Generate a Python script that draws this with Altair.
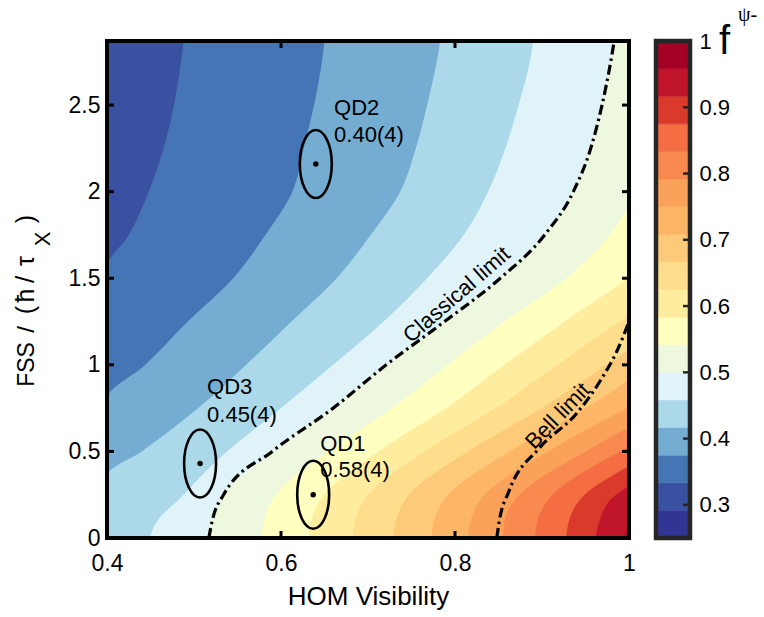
import altair as alt
import pandas as pd

FONT = "Liberation Sans"

# ---------------- axes / ticks ----------------
VIS_DOMAIN = [0.4, 1.0]
FSS_DOMAIN = [0.0, 2.87]
VIS_TICKS = [0.4, 0.6, 0.8, 1.0]
FSS_TICKS = [0, 0.5, 1, 1.5, 2, 2.5]
INNER_VIS_TICKS = [0.6, 0.8]
INNER_FSS_TICKS = [0.5, 1.0, 1.5, 2.0, 2.5]
CBAR_TICKS = [0.3, 0.4, 0.5, 0.6, 0.7, 0.8, 0.9, 1.0]
CBAR_INNER_TICKS = [0.3, 0.4, 0.5, 0.6, 0.7, 0.8, 0.9]

# ---------------- contour levels and colours ----------------
LEVEL_EDGES = [0.25, 0.2917, 0.3333, 0.375, 0.4167, 0.4583, 0.5, 0.5417, 0.5833,
               0.625, 0.6667, 0.7083, 0.75, 0.7917, 0.8333, 0.875, 0.9167, 0.9583, 1.0]
BAND_COLORS = ["#313695", "#3a50a1", "#4575b4", "#74add1", "#abd9e9", "#e0f3f8",
               "#eef8de", "#ffffbf", "#feec9f", "#fedd8c", "#fdca7a", "#fdb566",
               "#fba25a", "#f88a4f", "#f46d43", "#d93a2b", "#c0152b", "#a50026"]

# contour lines (HOM visibility, FSS), bottom -> top
C_0292 = [(0.400, 0.00), (0.400, 2.87)]
C_0333 = [(0.400, 0.00), (0.400, 1.56), (0.425, 1.75), (0.448, 2.00), (0.465, 2.25),
          (0.477, 2.50), (0.485, 2.75), (0.488, 2.87)]
C_0375 = [(0.400, 0.00), (0.400, 0.80), (0.444, 1.00), (0.493, 1.25), (0.545, 1.50),
          (0.582, 1.75), (0.613, 2.00), (0.626, 2.25), (0.638, 2.50), (0.647, 2.75),
          (0.650, 2.87)]
C_0417 = [(0.400, 0.00), (0.400, 0.36), (0.440, 0.50), (0.505, 0.75), (0.560, 1.00),
          (0.612, 1.25), (0.664, 1.50), (0.703, 1.75), (0.737, 2.00), (0.755, 2.25),
          (0.768, 2.50), (0.779, 2.75), (0.783, 2.87)]
C_0458 = [(0.449, 0.00), (0.458, 0.10), (0.484, 0.23), (0.527, 0.45), (0.600, 0.75),
          (0.660, 1.00), (0.718, 1.25), (0.768, 1.50), (0.810, 1.75), (0.838, 2.00),
          (0.858, 2.25), (0.873, 2.50), (0.886, 2.75), (0.890, 2.87)]
C_0500 = [(0.517, 0.00), (0.521, 0.10), (0.534, 0.25), (0.590, 0.50), (0.660, 0.75),
          (0.721, 1.00), (0.788, 1.25), (0.852, 1.50), (0.903, 1.75), (0.936, 2.00),
          (0.956, 2.25), (0.969, 2.50), (0.979, 2.75), (0.983, 2.87)]
C_0542 = [(0.577, 0.00), (0.581, 0.10), (0.594, 0.25), (0.654, 0.50), (0.728, 0.75),
          (0.792, 1.00), (0.857, 1.25), (0.928, 1.50), (0.978, 1.75), (1.000, 1.92)]
C_0583 = [(0.632, 0.00), (0.635, 0.10), (0.649, 0.25), (0.712, 0.50), (0.790, 0.75),
          (0.857, 1.00), (0.926, 1.25), (1.000, 1.50)]
C_0625 = [(0.682, 0.00), (0.685, 0.10), (0.700, 0.25), (0.765, 0.50), (0.847, 0.75),
          (0.918, 1.00), (0.990, 1.25), (1.000, 1.28)]
C_0667 = [(0.729, 0.00), (0.732, 0.10), (0.747, 0.25), (0.815, 0.50), (0.900, 0.75),
          (0.974, 1.00), (1.000, 1.09)]
C_0708 = [(0.773, 0.00), (0.776, 0.10), (0.792, 0.25), (0.863, 0.50), (0.951, 0.75),
          (1.000, 0.915)]
C_0750 = [(0.815, 0.00), (0.818, 0.10), (0.834, 0.25), (0.907, 0.50), (1.000, 0.755)]
C_0792 = [(0.855, 0.00), (0.857, 0.10), (0.874, 0.25), (0.950, 0.50), (1.000, 0.64)]
C_0833 = [(0.892, 0.00), (0.895, 0.10), (0.912, 0.25), (0.990, 0.50), (1.000, 0.527)]
C_0875 = [(0.928, 0.00), (0.931, 0.10), (0.949, 0.25), (1.000, 0.414)]
C_0917 = [(0.962, 0.00), (0.966, 0.10), (0.985, 0.25), (1.000, 0.30)]
C_0958 = [(0.995, 0.00), (1.000, 0.10)]

CONTOURS = [C_0292, C_0333, C_0375, C_0417, C_0458, C_0500, C_0542, C_0583, C_0625,
            C_0667, C_0708, C_0750, C_0792, C_0833, C_0875, C_0917, C_0958]

BELL_LIMIT = [(0.848, 0.00), (0.851, 0.10), (0.862, 0.27), (0.897, 0.52), (0.939, 0.715),
              (0.967, 0.908), (0.988, 1.10), (1.000, 1.25)]

# ---------------- quantum dots ----------------
QD_NAMES = ["QD1", "QD2", "QD3"]
QD_VIS = [0.637, 0.640, 0.507]
QD_FSS = [0.25, 2.16, 0.43]
QD_FID = ["0.58(4)", "0.40(4)", "0.45(4)"]
QD_LABEL_VIS = [0.645, 0.661, 0.515]
QD_NAME_FSS = [0.503, 2.445, 0.832]
QD_FID_FSS = [0.353, 2.289, 0.671]

CURVE_LABELS = ["Classical limit", "Bell limit"]
CURVE_LABEL_VIS = [0.802, 0.918]
CURVE_LABEL_FSS = [1.405, 0.705]
CURVE_LABEL_ANGLE = [319, 314]

# y-axis title pieces: text, centre (px from plot top), baseline (px from plot left), size
YTITLE = [("FSS", 323.5, -73, 23), ("/", 288.5, -73, 24), ("(", 269, -73, 25),
          ("ħ", 254.5, -73, 25), ("/", 238.5, -73, 26), ("τ", 220, -73, 25),
          ("X", 198, -57, 22), (")", 178, -73, 25)]

# ---------------- build ----------------
W, H = 522, 497
CB_W = 34

xsc = alt.Scale(domain=VIS_DOMAIN, nice=False, zero=False)
ysc = alt.Scale(domain=FSS_DOMAIN, nice=False, zero=False)
xaxis = alt.Axis(values=VIS_TICKS, format=".1~f", title="HOM Visibility", ticks=False,
                 tickSize=0, domain=False, grid=False, labelFontSize=23, labelPadding=14,
                 labelColor="black", titleFontSize=26, titleFontWeight="normal",
                 titleColor="black", titlePadding=8, labelFlush=False)
yaxis = alt.Axis(values=FSS_TICKS, format=".1~f", title=None, ticks=False, tickSize=0,
                 domain=False, grid=False, labelFontSize=23, labelPadding=7,
                 labelColor="black", labelFlush=False)


def X(field):
    return alt.X(field, type="quantitative", scale=xsc, axis=xaxis)


def Y(field):
    return alt.Y(field, type="quantitative", scale=ysc, axis=yaxis)


one = pd.DataFrame({"a": [0]})
layers = []
for k, pts in enumerate(CONTOURS):
    df = pd.DataFrame(pts, columns=["vis", "fss"])
    layers.append(
        alt.Chart(df).mark_area(orient="horizontal", interpolate="monotone",
                                color=BAND_COLORS[k + 1], clip=True)
        .encode(x=X("vis"), x2=alt.datum(1.0), y=Y("fss"))
    )

classical_df = pd.DataFrame(C_0500, columns=["vis", "fss"])
bell_df = pd.DataFrame(BELL_LIMIT, columns=["vis", "fss"])
for ldf in (classical_df, bell_df):
    layers.append(
        alt.Chart(ldf).mark_line(color="black", strokeWidth=3.2, strokeDash=[10, 4, 2.5, 4],
                                 interpolate="monotone", clip=True)
        .encode(x=X("vis"), y=Y("fss"), order=alt.Order("fss:Q"))
    )

for txt, v, s, ang in zip(CURVE_LABELS, CURVE_LABEL_VIS, CURVE_LABEL_FSS, CURVE_LABEL_ANGLE):
    cdf = pd.DataFrame({"vis": [v], "fss": [s], "t": [txt]})
    layers.append(
        alt.Chart(cdf).mark_text(angle=ang, fontSize=22, color="black", align="center",
                                 baseline="middle")
        .encode(x=X("vis"), y=Y("fss"), text="t:N")
    )

qd_df = pd.DataFrame({"name": QD_NAMES, "vis": QD_VIS, "fss": QD_FSS, "fid": QD_FID,
                      "lvis": QD_LABEL_VIS, "nfss": QD_NAME_FSS, "ffss": QD_FID_FSS})
ELLIPSE = ("M0,-1C0.26,-1,0.47,-0.55,0.47,0C0.47,0.55,0.26,1,0,1"
           "C-0.26,1,-0.47,0.55,-0.47,0C-0.47,-0.55,-0.26,-1,0,-1Z")
layers.append(
    alt.Chart(qd_df).mark_point(shape=ELLIPSE, size=68 * 68, filled=False, stroke="black",
                                strokeWidth=2.6, opacity=1)
    .encode(x=X("vis"), y=Y("fss"))
)
layers.append(
    alt.Chart(qd_df).mark_point(shape="circle", size=30, filled=True, color="black", opacity=1)
    .encode(x=X("vis"), y=Y("fss"))
)
layers.append(
    alt.Chart(qd_df).mark_text(align="left", baseline="alphabetic", fontSize=22, color="black")
    .encode(x=X("lvis"), y=Y("nfss"), text="name:N")
)
layers.append(
    alt.Chart(qd_df).mark_text(align="left", baseline="alphabetic", fontSize=22, color="black")
    .encode(x=X("lvis"), y=Y("ffss"), text="fid:N")
)

# inward ticks
txdf = pd.DataFrame({"v": INNER_VIS_TICKS})
tydf = pd.DataFrame({"v": INNER_FSS_TICKS})
layers.append(alt.Chart(txdf).mark_rule(color="black", strokeWidth=3)
              .encode(x=X("v"), y=alt.value(H), y2=alt.value(H - 7)))
layers.append(alt.Chart(txdf).mark_rule(color="black", strokeWidth=3)
              .encode(x=X("v"), y=alt.value(0), y2=alt.value(7)))
layers.append(alt.Chart(tydf).mark_rule(color="black", strokeWidth=3)
              .encode(y=Y("v"), x=alt.value(0), x2=alt.value(7)))
layers.append(alt.Chart(tydf).mark_rule(color="black", strokeWidth=3)
              .encode(y=Y("v"), x=alt.value(W), x2=alt.value(W - 7)))

# frame
layers.append(alt.Chart(one).mark_rect(filled=False, stroke="black", strokeWidth=4)
              .encode(x=alt.value(0), x2=alt.value(W), y=alt.value(0), y2=alt.value(H)))

# y title
for txt, yc, xb, fs in YTITLE:
    layers.append(
        alt.Chart(one).mark_text(text=txt, angle=270, fontSize=fs, color="black",
                                 align="center", baseline="alphabetic")
        .encode(x=alt.value(xb), y=alt.value(yc))
    )

main = alt.layer(*layers).properties(width=W, height=H)

# ---------------- colour bar ----------------
cb_df = pd.DataFrame({"lo": LEVEL_EDGES[:-1], "hi": LEVEL_EDGES[1:],
                      "band": [str(i) for i in range(len(BAND_COLORS))]})
cb_y = alt.Scale(domain=[0.25, 1.0], nice=False, zero=False)
cb_axis = alt.Axis(orient="right", values=CBAR_TICKS, format=".1~f", title=None, ticks=False,
                   tickSize=0, domain=False, grid=False, labelFontSize=22, labelPadding=9,
                   labelColor="black", labelFlush=False)
band_scale = alt.Scale(domain=[str(i) for i in range(len(BAND_COLORS))], range=BAND_COLORS)
cb_bands = alt.Chart(cb_df).mark_rect(strokeWidth=0.6).encode(
    y=alt.Y("lo:Q", scale=cb_y, axis=cb_axis), y2="hi:Q",
    x=alt.value(0), x2=alt.value(CB_W),
    color=alt.Color("band:N", scale=band_scale, legend=None),
    stroke=alt.Stroke("band:N", scale=band_scale, legend=None),
)
cb_ticks = alt.Chart(pd.DataFrame({"t": CBAR_INNER_TICKS})).mark_rule(
    color="#262626", strokeWidth=2.5).encode(
    y=alt.Y("t:Q", scale=cb_y, axis=cb_axis), x=alt.value(CB_W - 7), x2=alt.value(CB_W))
cb_frame = alt.Chart(one).mark_rect(filled=False, stroke="#262626", strokeWidth=4.5).encode(
    x=alt.value(0), x2=alt.value(CB_W), y=alt.value(0), y2=alt.value(H))
cb_f = alt.Chart(one).mark_text(text="f", fontSize=40, color="black", align="left",
                                baseline="alphabetic").encode(x=alt.value(63), y=alt.value(13))
cb_psi = alt.Chart(one).mark_text(text="ψ-", fontSize=20, font="Liberation Serif",
                                  color="black", align="left", baseline="alphabetic"
                                  ).encode(x=alt.value(82), y=alt.value(-20))
cbar = alt.layer(cb_bands, cb_ticks, cb_frame, cb_f, cb_psi).properties(width=CB_W, height=H)

chart = (
    alt.hconcat(main, cbar, spacing=27, bounds="flush")
    .configure(font=FONT, padding={"left": 12, "top": 4, "right": 0, "bottom": 0})
    .configure_view(stroke="transparent")
)

chart.save("out.html", embed_options={"renderer": "svg", "actions": False})
